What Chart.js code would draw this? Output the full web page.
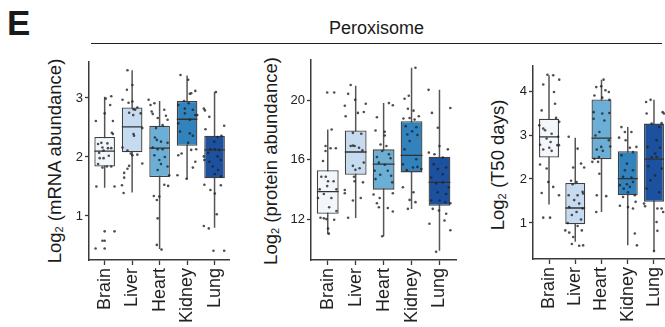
<!DOCTYPE html>
<html>
<head>
<meta charset="utf-8">
<script src="https://cdn.jsdelivr.net/npm/chart.js@4.4.1/dist/chart.umd.min.js"></script>
<style>
  html, body { margin: 0; padding: 0; background: #fff; }
  body { width: 665px; height: 327px; overflow: hidden; position: relative;
         font-family: "Liberation Sans", Arial, sans-serif; color: #1a1a1a; }
  canvas { position: absolute; top: 50px; }
  #letter { position: absolute; left: 7px; top: 5px; font-size: 35px; line-height: 35px; font-weight: bold; }
  #header { position: absolute; left: 91px; top: 19px; width: 571px; height: 24px;
            border-bottom: 1.5px solid #222; text-align: center; font-size: 18px; line-height: 18px; }
  .ytitle { position: absolute; white-space: nowrap; font-size: 18.5px; line-height: 20px;
            transform: translate(-50%, -50%) rotate(-90deg); }
  .ytitle sub { font-size: 0.6em; vertical-align: -0.25em; }
</style>
</head>
<body>
<div id="letter">E</div>
<div id="header">Peroxisome</div>
<div class="ytitle" style="left:57px; top:161px">Log<sub>2</sub> (mRNA abundance)</div>
<div class="ytitle" style="left:273px; top:161px">Log<sub>2</sub> (protein abundance)</div>
<div class="ytitle" style="left:500px; top:165px">Log<sub>2</sub> (T50 days)</div>
<canvas id="mrna" width="240" height="277" style="left:0px"></canvas>
<canvas id="protein" width="225" height="277" style="left:240px"></canvas>
<canvas id="t50" width="215" height="277" style="left:470px"></canvas>
<script>
const tissues = ['Brain', 'Liver', 'Heart', 'Kidney', 'Lung'];
const boxColors = ['#f3f7fc', '#c6dbef', '#6baed6', '#3182bd', '#1c519f'];

// box stats per tissue: [lower whisker, q1, median, q3, upper whisker]
const mrnaBoxes = [
  [1.48, 1.84, 2.10, 2.34, 3.02],
  [1.40, 2.08, 2.51, 2.84, 3.47],
  [0.44, 1.66, 2.15, 2.53, 2.95],
  [1.62, 2.19, 2.64, 2.95, 3.38],
  [0.80, 1.64, 2.12, 2.36, 3.10],
];
const proteinBoxes = [
  [11.0, 12.38, 13.87, 15.31, 18.04],
  [12.09, 15.0, 16.53, 17.98, 20.98],
  [10.87, 14.0, 15.71, 16.71, 19.82],
  [12.7, 15.16, 16.31, 18.6, 22.2],
  [9.89, 12.91, 14.49, 16.22, 20.71],
];
const t50Boxes = [
  [1.42, 2.49, 2.96, 3.37, 4.36],
  [0.57, 0.97, 1.34, 1.91, 2.94],
  [1.25, 2.45, 2.93, 3.81, 4.26],
  [0.49, 1.63, 2.01, 2.63, 3.18],
  [0.36, 1.48, 2.45, 3.26, 3.80],
];

// jittered points per tissue: [x offset from category, value]
const mrnaPoints = [
  [[-0.32,2.61],[0.04,2.99],[0.24,3.03],[0.30,2.61],[0.20,2.88],[0.0,2.74],[-0.12,2.24],[0.10,2.23],[0.26,2.41],[0.30,2.39],[-0.24,2.22],[-0.08,2.16],[0.12,2.15],[0.24,2.15],[-0.20,2.07],[-0.04,2.11],[0.15,2.02],[-0.18,1.98],[-0.04,1.98],[-0.24,1.88],[-0.08,1.82],[0.08,1.84],[0.24,1.84],[-0.30,1.50],[0.36,1.50],[0.0,0.74],[0.36,0.74],[-0.08,0.58],[0.0,0.58],[-0.33,0.45],[0.0,0.45]],
  [[-0.17,3.47],[0.01,3.22],[-0.19,3.14],[-0.35,2.97],[0.01,2.94],[-0.13,2.92],[0.19,2.84],[0.05,2.81],[-0.11,2.75],[0.11,2.80],[0.31,2.74],[0.04,2.71],[0.37,2.49],[0.05,2.39],[0.07,2.36],[-0.35,2.16],[-0.17,2.11],[-0.05,2.06],[0.01,2.03],[0.19,2.04],[0.37,1.89],[-0.11,1.85],[-0.17,1.80],[-0.29,1.73],[-0.29,1.65],[-0.37,1.52],[-0.31,1.39]],
  [[-0.40,2.97],[-0.33,2.88],[-0.19,2.91],[-0.29,2.77],[-0.25,2.73],[-0.07,2.66],[0.17,2.80],[0.23,2.70],[0.29,2.63],[0.11,2.54],[-0.13,2.49],[-0.17,2.33],[-0.10,2.29],[0.05,2.26],[0.29,2.24],[-0.25,2.16],[-0.07,2.13],[0.11,2.13],[0.19,2.00],[-0.01,1.95],[-0.19,2.03],[0.05,1.88],[0.29,1.84],[-0.07,1.78],[0.35,1.69],[0.17,1.53],[0.31,1.51],[-0.21,1.34],[-0.01,1.33],[-0.10,1.27],[-0.07,0.96],[-0.10,0.51],[0.07,0.43]],
  [[-0.24,3.39],[0.04,3.31],[0.15,3.08],[0.10,3.07],[0.30,3.12],[-0.11,2.95],[0.06,2.91],[-0.32,2.88],[-0.08,2.82],[0.21,2.80],[0.30,2.71],[0.37,2.71],[-0.32,2.57],[-0.08,2.74],[0.10,2.63],[-0.26,2.43],[0.10,2.40],[0.21,2.36],[0.04,2.24],[-0.32,2.03],[-0.20,2.06],[0.15,2.12],[0.33,2.13],[-0.35,1.69],[0.30,1.92],[0.21,1.82],[-0.02,1.63]],
  [[0.05,3.10],[-0.39,2.82],[-0.35,2.79],[-0.19,2.68],[-0.33,2.47],[0.11,2.34],[0.25,2.36],[0.35,2.53],[-0.01,2.26],[-0.15,2.13],[0.01,2.13],[0.17,2.12],[-0.23,2.07],[-0.39,2.01],[-0.37,1.95],[-0.19,1.92],[0.11,2.01],[0.23,1.95],[-0.07,1.84],[0.13,1.78],[0.01,1.71],[0.23,1.67],[-0.37,1.53],[-0.15,1.44],[0.01,1.38],[0.23,1.52],[0.08,1.03],[-0.39,0.83],[-0.21,0.79],[-0.04,0.41],[0.35,0.41]],
];
const proteinPoints = [
  [[-0.02,20.53],[0.23,20.53],[0.14,18.04],[-0.08,16.93],[-0.08,16.6],[0.10,16.78],[0.29,16.78],[-0.17,15.93],[-0.23,14.87],[-0.07,14.87],[0.01,14.56],[-0.02,14.24],[0.21,14.56],[-0.29,14.02],[0.31,14.02],[-0.14,13.71],[0.13,13.44],[-0.35,13.44],[0.05,12.82],[0.31,12.56],[-0.26,12.11],[-0.14,12.07],[-0.05,12.02],[0.23,11.98],[0.01,11.38],[0.04,11.04]],
  [[-0.18,21.04],[-0.27,20.44],[0.36,19.78],[-0.39,19.64],[-0.02,20.04],[-0.36,18.93],[0.08,19.16],[0.29,19.22],[-0.10,17.82],[0.20,17.76],[-0.10,16.96],[-0.04,16.93],[0.12,16.82],[-0.18,16.93],[0.24,16.64],[0.29,15.82],[-0.10,15.6],[0.14,15.44],[-0.01,15.33],[-0.06,14.87],[-0.04,14.56],[0.26,14.49],[-0.39,13.98],[-0.39,13.76],[-0.10,13.27],[0.18,13.44],[-0.27,12.11]],
  [[-0.24,18.87],[0.19,19.82],[0.33,19.67],[-0.29,17.98],[0.04,17.89],[0.04,17.64],[-0.11,17.04],[0.10,16.93],[-0.24,16.2],[-0.05,16.6],[0.19,16.38],[0.25,16.11],[-0.17,15.82],[0.04,15.67],[-0.32,15.27],[0.15,15.27],[-0.12,15.0],[0.27,14.93],[-0.29,14.71],[0.31,14.49],[-0.36,13.67],[-0.14,13.44],[0.33,13.76],[-0.24,13.09],[-0.17,12.82],[0.15,12.76],[0.33,12.53],[-0.05,10.87]],
  [[0.14,22.2],[-0.10,20.31],[-0.25,20.11],[-0.13,19.44],[0.07,19.31],[0.26,18.93],[-0.29,18.78],[-0.07,18.82],[0.11,18.71],[-0.21,18.27],[0.17,18.2],[0.02,17.93],[-0.15,17.71],[0.21,17.67],[-0.07,17.27],[-0.25,16.71],[0.17,16.04],[-0.31,15.71],[0.05,15.49],[0.21,15.53],[-0.17,15.31],[0.35,15.38],[-0.31,14.16],[0.07,13.82],[-0.07,13.31],[0.14,13.16],[-0.13,12.71]],
  [[-0.39,20.71],[0.39,19.49],[-0.27,19.16],[-0.06,18.16],[0.0,16.93],[-0.38,16.49],[0.30,16.71],[-0.18,16.38],[0.12,16.16],[-0.21,15.71],[-0.06,15.38],[0.24,15.49],[0.12,15.04],[-0.30,14.82],[-0.12,14.42],[0.12,14.49],[0.33,14.16],[-0.06,13.82],[0.24,13.71],[-0.30,13.27],[0.0,13.27],[0.21,13.16],[0.39,13.09],[-0.24,12.71],[-0.02,12.6],[0.24,12.38],[0.18,11.93],[-0.36,11.71],[0.39,11.27],[-0.12,9.82]],
];
const t50Points = [
  [[-0.06,4.37],[0.16,4.36],[0.39,4.26],[-0.22,4.15],[0.19,3.98],[0.23,3.71],[-0.28,3.56],[0.27,3.39],[0.39,3.30],[-0.37,3.22],[-0.22,3.15],[-0.15,3.11],[0.10,3.03],[0.35,2.96],[-0.09,2.92],[-0.34,2.78],[0.06,2.84],[0.32,2.77],[0.38,2.77],[-0.22,2.67],[0.01,2.71],[0.10,2.64],[-0.34,2.33],[-0.09,2.24],[-0.28,1.68],[-0.03,1.93],[0.16,1.82],[0.38,1.63],[-0.22,1.12],[0.04,1.12]],
  [[-0.25,2.96],[0.09,2.69],[-0.08,2.26],[0.22,2.35],[0.34,2.26],[-0.16,1.96],[0.05,1.93],[-0.10,1.88],[0.28,1.71],[-0.25,1.63],[0.09,1.63],[0.30,1.67],[-0.04,1.52],[0.15,1.44],[-0.23,1.36],[0.28,1.33],[0.05,1.25],[-0.13,1.18],[0.22,1.08],[-0.29,1.0],[0.09,0.93],[-0.38,0.83],[0.25,0.83],[-0.23,0.78],[-0.08,0.68],[-0.13,0.52],[0.15,0.48],[0.30,0.49]],
  [[0.08,4.26],[-0.20,4.09],[-0.01,4.11],[0.15,4.02],[0.28,3.98],[-0.27,3.90],[0.03,3.85],[0.30,3.80],[-0.30,3.52],[0.03,3.49],[0.30,3.50],[-0.30,3.37],[0.11,3.33],[-0.23,2.99],[-0.08,3.07],[0.28,2.88],[-0.01,2.73],[0.33,2.74],[-0.18,2.67],[0.05,2.64],[-0.27,2.46],[-0.10,2.50],[-0.35,2.39],[-0.13,2.39],[-0.08,2.12],[-0.18,1.63],[0.18,1.61],[-0.20,1.25]],
  [[-0.24,3.18],[-0.11,3.07],[0.14,3.07],[-0.33,2.94],[-0.08,2.88],[0.33,2.73],[0.08,2.71],[0.20,2.61],[-0.24,2.54],[-0.03,2.35],[-0.11,2.20],[0.20,2.20],[-0.18,2.05],[0.14,2.03],[-0.30,1.86],[-0.03,1.88],[0.20,1.93],[-0.15,1.78],[0.08,1.82],[0.01,1.70],[-0.18,1.59],[0.27,1.63],[-0.30,1.39],[0.01,1.36],[0.20,1.33],[0.30,1.48],[0.27,0.76],[0.35,0.49]],
  [[-0.30,3.75],[-0.13,3.80],[-0.28,3.49],[0.33,3.52],[0.38,3.49],[-0.09,3.26],[0.20,3.18],[0.29,3.27],[0.10,2.88],[-0.25,2.73],[0.23,2.71],[0.04,2.58],[-0.09,2.49],[0.10,2.50],[0.29,2.24],[-0.22,2.29],[0.04,2.08],[-0.13,1.97],[-0.28,1.78],[0.20,1.70],[-0.38,1.44],[-0.34,1.38],[0.13,1.33],[0.29,1.33],[0.35,1.25],[0.10,1.02],[0.13,0.82],[0.0,0.36]],
];

const mrnaTicks = [1, 2, 3];
const proteinTicks = [12, 16, 20];
const t50Ticks = [1, 2, 3, 4];

const axisColor = '#3a3a3a';
const textColor = '#222';

function boxplotDatasets(boxes, points, boxFrac) {
  const half = boxFrac / 2;
  const whiskers = [];
  const medians = [];
  boxes.forEach((b, i) => {
    whiskers.push({ x: i, y: b[0] }, { x: i, y: b[4] }, { x: i, y: null });
    medians.push({ x: i - half, y: b[2] }, { x: i + half, y: b[2] }, { x: i, y: null });
  });
  const dots = [];
  points.forEach((arr, i) => arr.forEach(p => dots.push({ x: i + p[0], y: p[1] })));
  return [
    {
      type: 'line', data: whiskers, borderColor: '#555', borderWidth: 1.5,
      pointRadius: 0, spanGaps: false, order: 4,
    },
    {
      type: 'bar', data: boxes.map((b, i) => ({ x: i, y: [b[1], b[3]] })),
      backgroundColor: boxColors, borderColor: '#404040', borderWidth: 1.3,
      borderSkipped: false, barPercentage: boxFrac, categoryPercentage: 1,
      grouped: false, order: 3,
    },
    {
      type: 'line', data: medians, borderColor: '#333', borderWidth: 1.3,
      pointRadius: 0, spanGaps: false, order: 2,
    },
    {
      type: 'scatter', data: dots, pointRadius: 1.3, pointHoverRadius: 1.3,
      backgroundColor: 'rgba(35,35,35,0.8)', borderWidth: 0, order: 1,
    },
  ];
}

function makePanel(id, boxes, points, ticks, opt) {
  const canvas = document.getElementById(id);
  return new Chart(canvas, {
    type: 'bar',
    data: { datasets: boxplotDatasets(boxes, points, opt.boxFrac) },
    options: {
      responsive: false,
      animation: false,
      devicePixelRatio: 1,
      layout: { padding: { left: 0, top: opt.top, right: opt.right, bottom: 0 } },
      plugins: { legend: { display: false }, tooltip: { enabled: false } },
      scales: {
        x: {
          type: 'linear', min: opt.xMin, max: opt.xMax, offset: false,
          afterBuildTicks: (s) => { s.ticks = tissues.map((t, i) => ({ value: i })); },
          afterFit: (s) => { s.height = opt.xHeight; },
          ticks: {
            callback: (v) => tissues[v], autoSkip: false, minRotation: 90, maxRotation: 90,
            padding: 3, color: textColor, font: { size: 18 },
          },
          grid: { drawOnChartArea: false, offset: false, tickLength: 5, tickColor: axisColor, tickWidth: 1.3 },
          border: { color: axisColor, width: 1.5 },
        },
        y: {
          type: 'linear', min: opt.yMin, max: opt.yMax, beginAtZero: false,
          afterBuildTicks: (s) => { s.ticks = ticks.map(v => ({ value: v })); },
          afterFit: (s) => { s.width = opt.yWidth; },
          ticks: { padding: 2, color: textColor, font: { size: 13 } },
          grid: { drawOnChartArea: false, tickLength: 4, tickColor: axisColor, tickWidth: 1.3 },
          border: { color: axisColor, width: 1.5 },
        },
      },
    },
  });
}

Chart.defaults.font.family = '"Liberation Sans", Arial, sans-serif';

makePanel('mrna', mrnaBoxes, mrnaPoints, mrnaTicks, {
  boxFrac: 0.75, xMin: -0.57, xMax: 4.54, yMin: 0.254, yMax: 3.61,
  top: 12, right: 8, xHeight: 67, yWidth: 89,
});
makePanel('protein', proteinBoxes, proteinPoints, proteinTicks, {
  boxFrac: 0.78, xMin: -0.6, xMax: 4.6, yMin: 9.27, yMax: 22.73,
  top: 8, right: 8, xHeight: 67, yWidth: 71,
});
makePanel('t50', t50Boxes, t50Points, t50Ticks, {
  boxFrac: 0.76, xMin: -0.61, xMax: 4.61, yMin: 0.18, yMax: 4.57,
  top: 16, right: 15, xHeight: 68, yWidth: 63,
});
</script>
</body>
</html>
